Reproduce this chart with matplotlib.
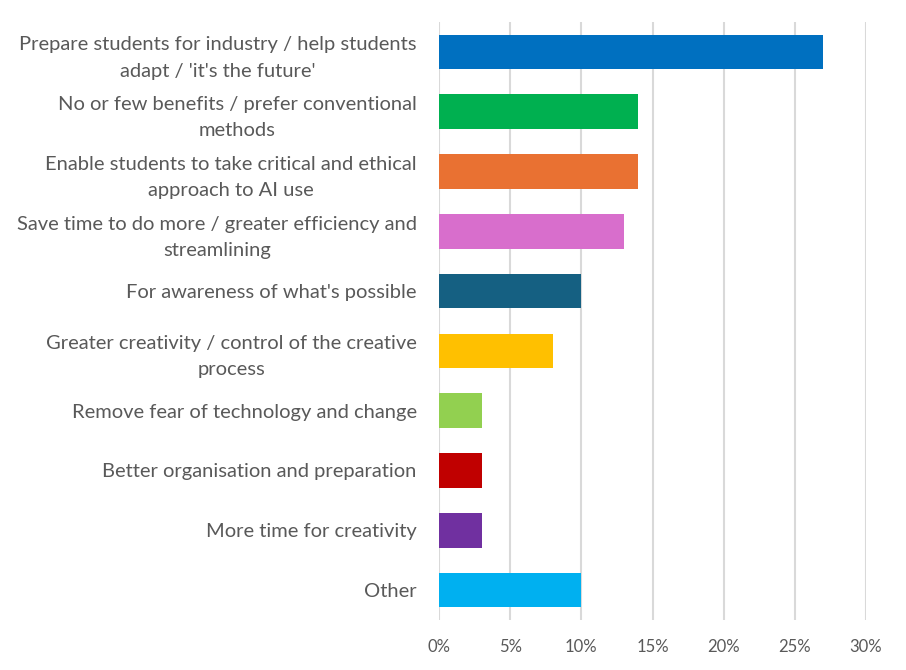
import matplotlib
matplotlib.use("Agg")
import matplotlib.pyplot as plt
from matplotlib.ticker import FuncFormatter

categories = [
    "Prepare students for industry / help students\nadapt / 'it's the future'",
    "No or few benefits / prefer conventional\nmethods",
    "Enable students to take critical and ethical\napproach to AI use",
    "Save time to do more / greater efficiency and\nstreamlining",
    "For awareness of what's possible",
    "Greater creativity / control of the creative\nprocess",
    "Remove fear of technology and change",
    "Better organisation and preparation",
    "More time for creativity",
    "Other",
]
values = [27, 14, 14, 13, 10, 8, 3, 3, 3, 10]
colors = ["#0070C0", "#00B050", "#E97132", "#D86ECC", "#156082",
          "#FFC000", "#92D050", "#C00000", "#7030A0", "#00B0F0"]
xticks = [0, 5, 10, 15, 20, 25, 30]

plt.rcParams['font.family'] = ['Lato', 'DejaVu Sans']
fig = plt.figure(figsize=(9.06, 6.70), dpi=100)
ax = fig.add_axes([439/906, 1-620/670, 427/906, 598/670])
y = list(range(len(categories)))
ax.barh(y, values, height=0.58, color=colors, zorder=3)
ax.set_ylim(len(categories)-0.5, -0.5)
ax.set_xlim(0, 30)
ax.set_xticks(xticks)
ax.xaxis.set_major_formatter(FuncFormatter(lambda v, p: f"{int(v)}%"))
ax.set_yticks(y)
ax.set_yticklabels(categories, linespacing=1.65)
ax.tick_params(axis='y', length=0, pad=16, labelsize=14.5, colors='#595959')
ax.tick_params(axis='x', length=0, pad=14, labelsize=12, colors='#595959')
for lbl in ax.get_yticklabels():
    lbl.set_ha('right')
    lbl.set_multialignment('center')
ax.grid(axis='x', color='#D9D9D9', linewidth=1.5, zorder=0)
for s in ax.spines.values():
    s.set_visible(False)
fig.savefig("out.png", dpi=100)
